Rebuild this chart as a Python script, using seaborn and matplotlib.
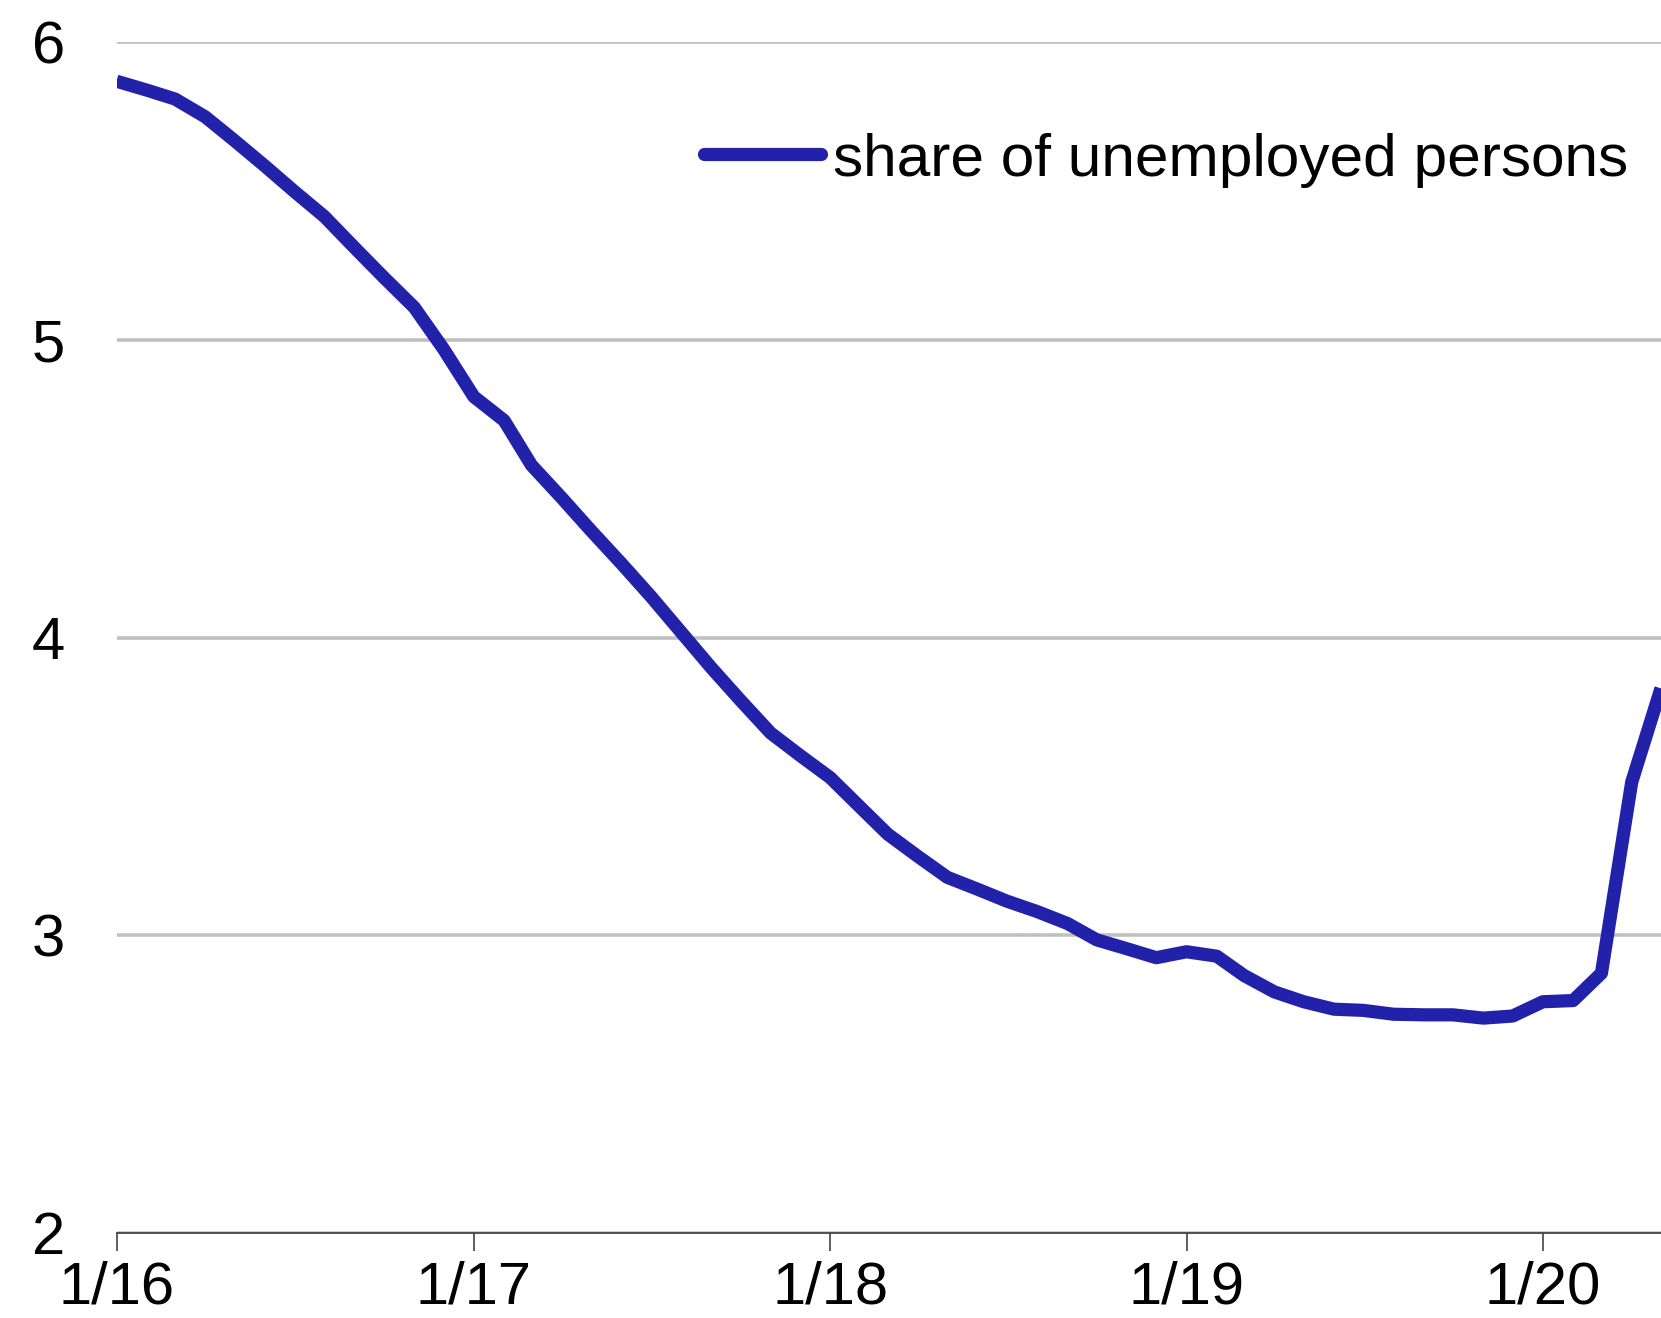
import numpy as np
import pandas as pd
import matplotlib
matplotlib.use("Agg")
import matplotlib.pyplot as plt
import seaborn as sns

# ---- data ----
start_month = "2016-01-01"
share_unemployed = [
    5.87, 5.84, 5.81, 5.75, 5.67, 5.585, 5.50, 5.415, 5.31, 5.21, 5.11, 4.97,
    4.81, 4.73, 4.58, 4.47, 4.36, 4.25, 4.14, 4.02, 3.90, 3.79, 3.68, 3.605,
    3.53, 3.43, 3.34, 3.265, 3.195, 3.155, 3.115, 3.08, 3.04, 2.985, 2.955, 2.925,
    2.945, 2.93, 2.865, 2.81, 2.777, 2.752, 2.748, 2.735, 2.733, 2.733, 2.722, 2.729,
    2.777, 2.781, 2.873, 3.515, 3.83,
]
series_label = "share of unemployed persons"
x_tick_dates = ["2016-01-01", "2017-01-01", "2018-01-01", "2019-01-01", "2020-01-01"]
x_tick_labels = ["1/16", "1/17", "1/18", "1/19", "1/20"]
y_ticks = [2, 3, 4, 5, 6]
y_tick_labels = ["2", "3", "4", "5", "6"]

dates = pd.date_range(start_month, periods=len(share_unemployed), freq="MS")
df = pd.DataFrame({"date": dates, "value": share_unemployed, "series": series_label})

# ---- style ----
sns.set_theme(style="white")
plt.rcParams["font.family"] = ["Liberation Sans", "DejaVu Sans"]
plt.rcParams["text.color"] = "black"

W, H, DPI = 1661, 1318, 100
fig = plt.figure(figsize=(W / DPI, H / DPI), dpi=DPI)
ax = fig.add_axes([116.5 / W, 85 / H, 1 - 116.5 / W, (1233 - 42.5) / H])

line_color = "#2121aa"
LW = 9.5
sns.lineplot(data=df, x="date", y="value", hue="series", palette=[line_color],
             linewidth=LW, ax=ax, legend=True)
for ln in ax.get_lines():
    ln.set_solid_capstyle("butt")
    ln.set_clip_on(True)

ax.set_xlim(pd.Timestamp("2016-01-01"), pd.Timestamp("2020-05-01"))
ax.set_ylim(2, 6)

ax.set_yticks(y_ticks)
ax.set_yticklabels(y_tick_labels)
ax.set_xticks(pd.to_datetime(x_tick_dates))
ax.set_xticklabels(x_tick_labels)

ax.yaxis.grid(True, color="#c0c0c0", linewidth=2.6)
ax.xaxis.grid(False)
ax.set_axisbelow(True)

for side in ["left", "right", "top"]:
    ax.spines[side].set_visible(False)
ax.spines["bottom"].set_color("#444444")
ax.spines["bottom"].set_linewidth(1.3)

ax.tick_params(axis="x", which="major", direction="out", length=13, width=1.2,
               color="#444444", labelsize=43, pad=7, labelcolor="black", bottom=True)
ax.tick_params(axis="y", which="major", length=0, labelsize=43, pad=37, labelcolor="black")

ax.set_xlabel("")
ax.set_ylabel("")

leg = ax.legend(loc="center left", bbox_to_anchor=(703.5 / W, 1 - 160 / H),
                bbox_transform=fig.transFigure, frameon=False, fontsize=43.5,
                handlelength=1.95, handletextpad=0.2, borderpad=0, borderaxespad=0)
for t in leg.get_texts():
    t.set_color("black")
for h in leg.get_lines():
    h.set_solid_capstyle("round")
    h.set_linewidth(LW)

fig.savefig("out.png", dpi=DPI)
